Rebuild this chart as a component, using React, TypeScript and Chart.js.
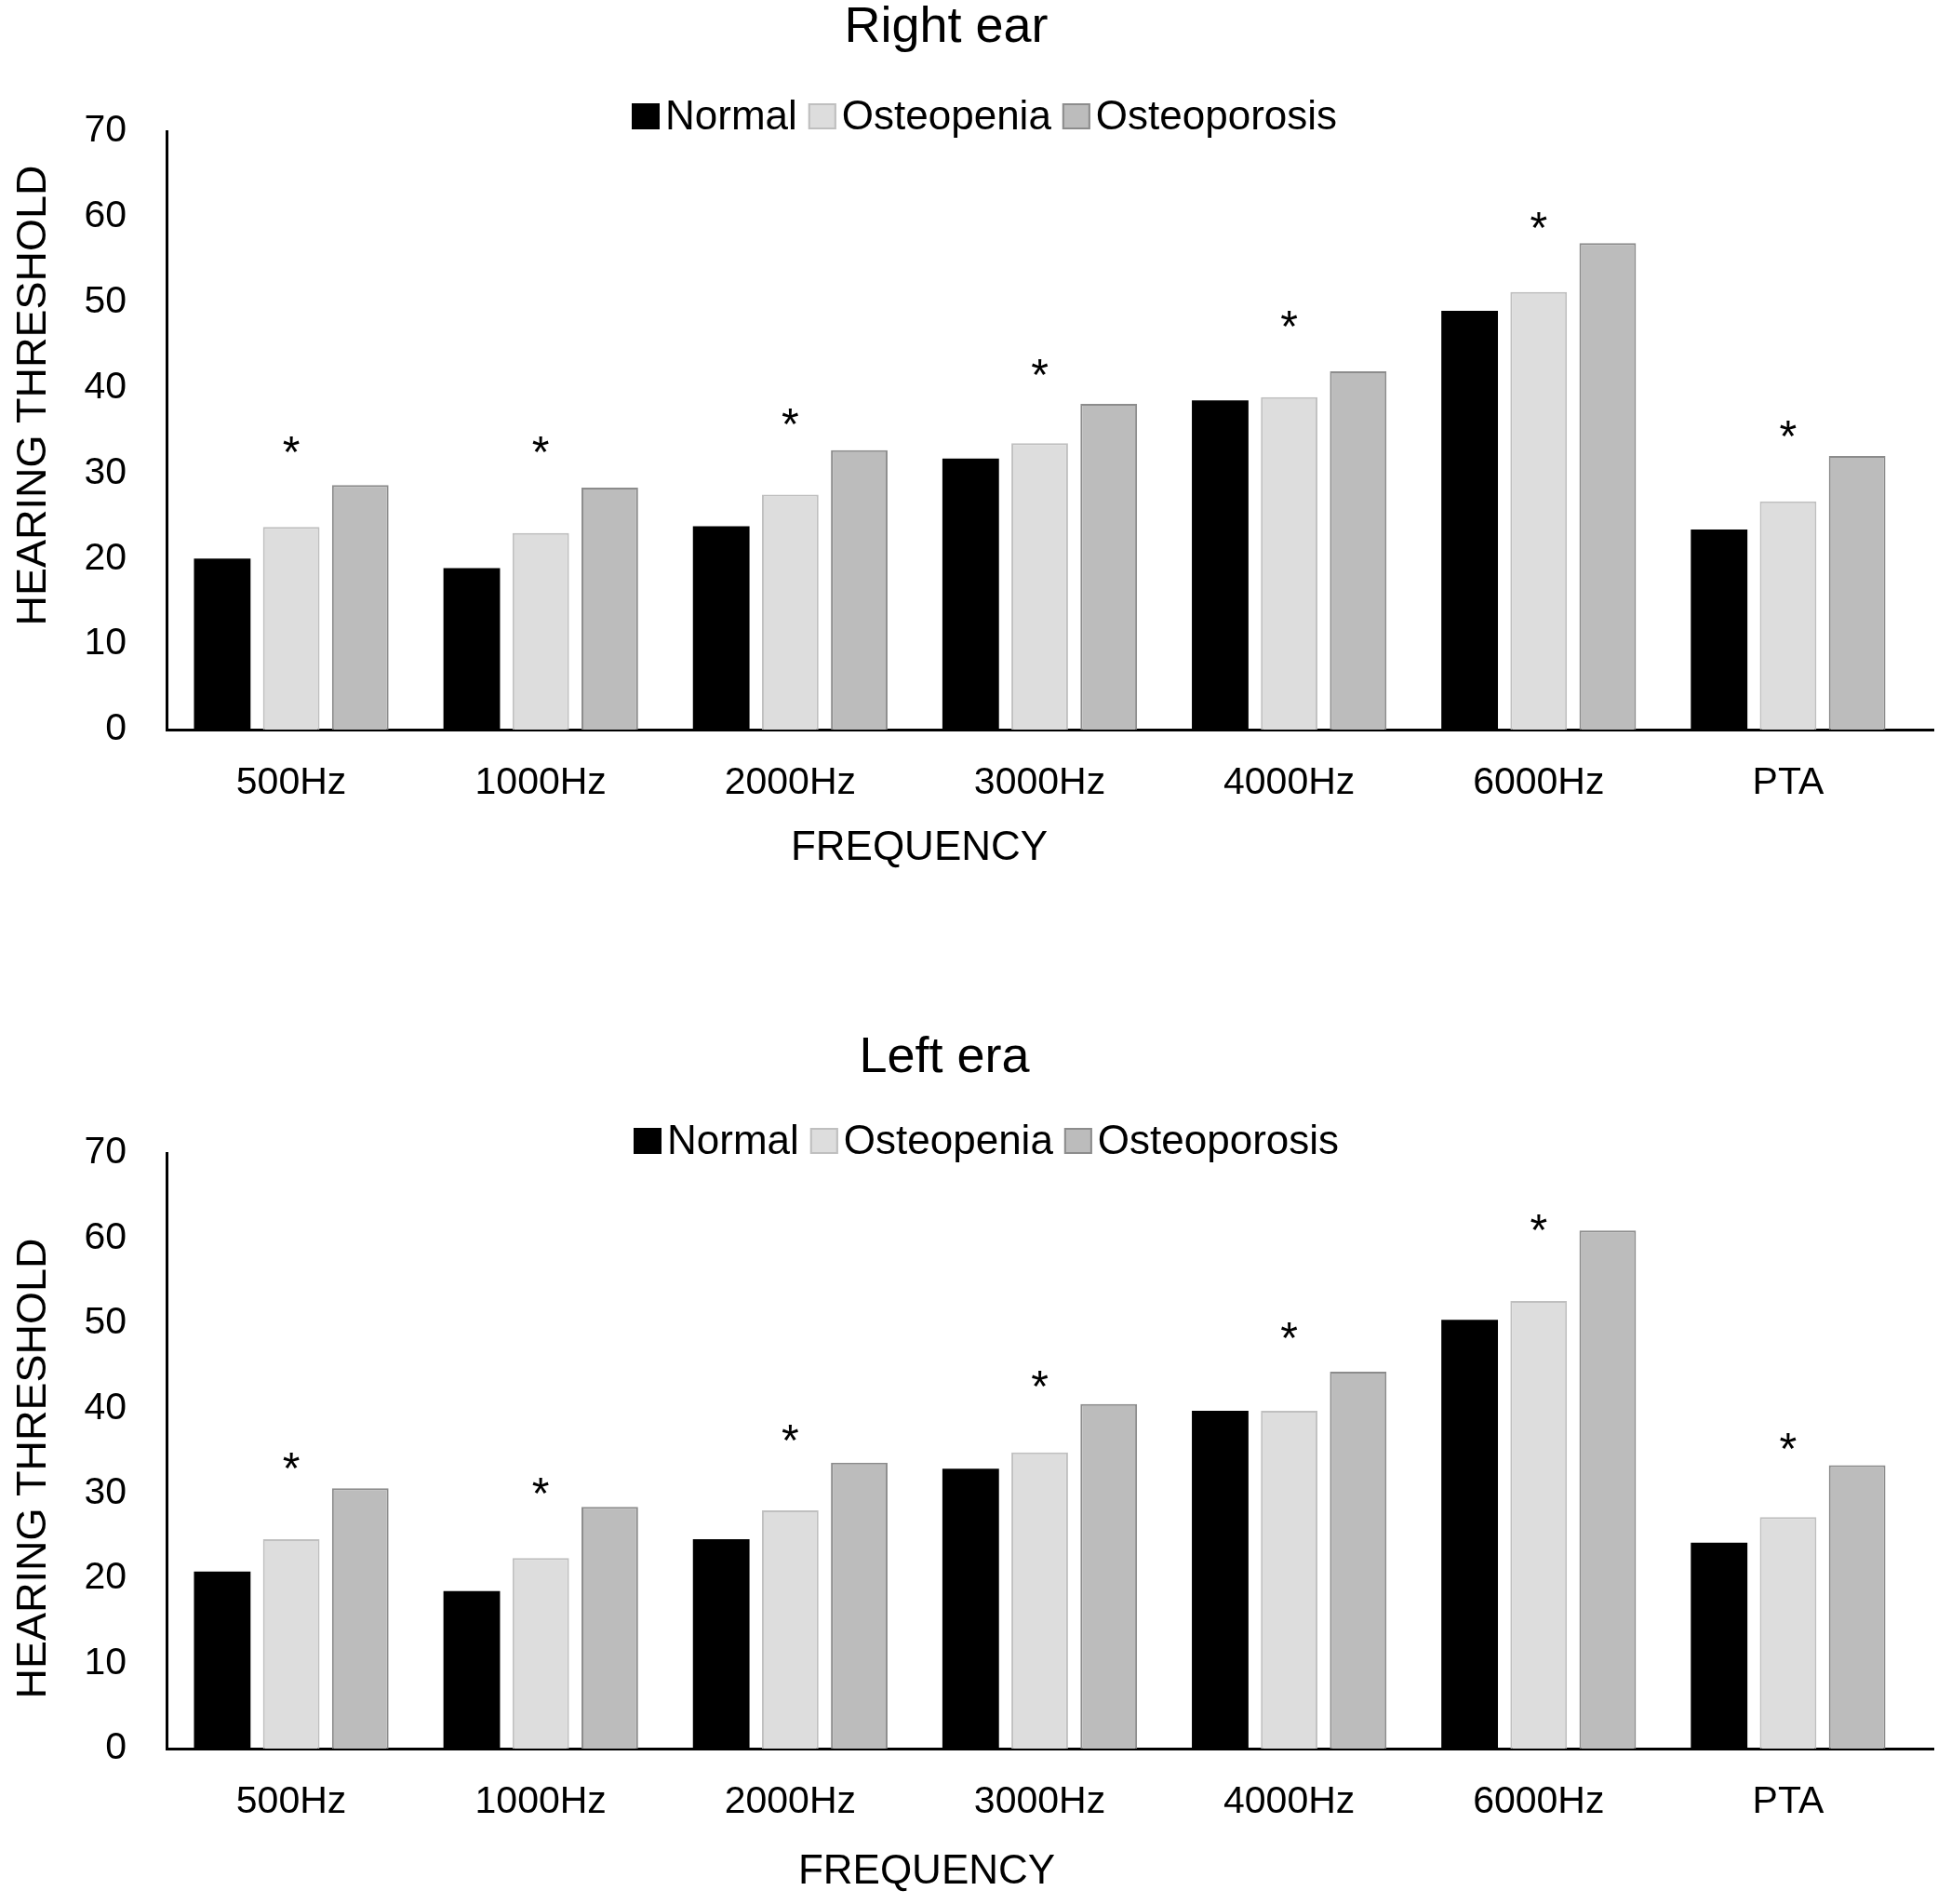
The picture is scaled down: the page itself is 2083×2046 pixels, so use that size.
import React, { useEffect, useRef } from "react";
import { Chart, registerables } from "chart.js";

Chart.register(...registerables);

const categories = ["500Hz", "1000Hz", "2000Hz", "3000Hz", "4000Hz", "6000Hz", "PTA"];
const seriesNames = ["Normal", "Osteopenia", "Osteoporosis"];
const yTicks = [0, 10, 20, 30, 40, 50, 60, 70];

const rightNormal = [20.0, 18.9, 23.8, 31.7, 38.5, 49.0, 23.4];
const rightOsteopenia = [23.7, 23.0, 27.5, 33.5, 38.9, 51.2, 26.7];
const rightOsteoporosis = [28.6, 28.3, 32.7, 38.1, 41.9, 56.9, 32.0];
const rightStars = [32.9, 32.9, 36.1, 41.9, 47.6, 59.1, 34.7];

const leftNormal = [20.8, 18.5, 24.6, 32.9, 39.7, 50.4, 24.2];
const leftOsteopenia = [24.6, 22.4, 28.0, 34.8, 39.7, 52.6, 27.2];
const leftOsteoporosis = [30.6, 28.4, 33.6, 40.5, 44.3, 60.9, 33.3];
const leftStars = [33.4, 30.4, 36.6, 43.0, 48.7, 61.4, 35.7];

const FONT = "'Liberation Sans', Arial, Helvetica, sans-serif";
const fills = ["#000000", "#dddddd", "#bcbcbc"];
const borders = ["#000000", "#bfbfbf", "#8c8c8c"];

const W = 2083;
const H = 1023;
const AREA_RIGHT = 2056;
const AXIS_END = 2079;

type Layout = {
  title: string;
  titleX: number;
  titleY: number;
  legendX: number;
  legendY: number;
  xTitleX: number;
  xTitleY: number;
  yTitleX: number;
  yTitleY: number;
  areaTop: number;
  areaBottom: number;
  stars: number[];
};

const decorPlugin = {
  id: "decor",
  afterDraw(chart: any, _args: any, opts: any) {
    const ctx = chart.ctx;
    const L: Layout = opts.layout;
    const xs = chart.scales.x;
    const ys = chart.scales.y;
    ctx.save();
    // extend x axis line beyond the last category
    const yLine = Math.round(xs.top - 1.5) + 1.5;
    ctx.strokeStyle = "#000";
    ctx.lineWidth = 3;
    ctx.beginPath();
    ctx.moveTo(xs.right - 2, yLine);
    ctx.lineTo(AXIS_END, yLine);
    ctx.stroke();

    ctx.fillStyle = "#000";
    // title
    ctx.font = `54px ${FONT}`;
    ctx.textAlign = "center";
    ctx.textBaseline = "middle";
    ctx.fillText(L.title, L.titleX, L.titleY);
    // legend
    ctx.font = `44px ${FONT}`;
    ctx.textAlign = "left";
    let x = L.legendX;
    seriesNames.forEach((name, i) => {
      ctx.fillStyle = fills[i];
      ctx.fillRect(x, L.legendY - 14, 30, 28);
      if (i > 0) {
        ctx.strokeStyle = borders[i];
        ctx.lineWidth = 2;
        ctx.strokeRect(x + 1, L.legendY - 13, 28, 26);
      }
      x += 36;
      ctx.fillStyle = "#000";
      ctx.fillText(name, x, L.legendY + 2);
      x += ctx.measureText(name).width + 12;
    });
    // axis titles
    ctx.font = `44px ${FONT}`;
    ctx.textAlign = "center";
    ctx.fillText("FREQUENCY", L.xTitleX, L.xTitleY);
    ctx.save();
    ctx.font = `45px ${FONT}`;
    ctx.translate(L.yTitleX, L.yTitleY);
    ctx.rotate(-Math.PI / 2);
    ctx.fillText("HEARING THRESHOLD", 0, 0);
    ctx.restore();
    // stars
    ctx.font = `48px ${FONT}`;
    ctx.textAlign = "center";
    ctx.textBaseline = "alphabetic";
    L.stars.forEach((v, i) => {
      const px = xs.getPixelForValue(i);
      const py = ys.getPixelForValue(v);
      ctx.fillText("*", px, py + 20);
    });
    ctx.restore();
  },
};

function EarChart({ values, layout }: { values: number[][]; layout: Layout }) {
  const ref = useRef<HTMLCanvasElement | null>(null);
  useEffect(() => {
    if (!ref.current) return;
    const chart = new Chart(ref.current, {
      type: "bar",
      data: {
        labels: categories,
        datasets: values.map((vals, i) => ({
          label: seriesNames[i],
          data: vals,
          backgroundColor: fills[i],
          borderColor: borders[i],
          borderWidth: i === 0 ? 0 : 2,
          barPercentage: 0.82,
          categoryPercentage: 0.83,
        })),
      },
      options: {
        animation: false,
        responsive: false,
        devicePixelRatio: 1,
        layout: { padding: { top: layout.areaTop, left: 0, right: W - AREA_RIGHT, bottom: 0 } },
        plugins: {
          legend: { display: false },
          title: { display: false },
          tooltip: { enabled: false },
          decor: { layout },
        } as any,
        scales: {
          x: {
            grid: { display: false, drawTicks: false },
            border: { display: true, color: "#000", width: 3 },
            ticks: { color: "#000", font: { family: FONT, size: 41 }, padding: 33 },
            afterFit(scale: any) {
              scale.height = H - layout.areaBottom;
            },
          },
          y: {
            min: 0,
            max: 70,
            afterBuildTicks(scale: any) {
              scale.ticks = yTicks.map((v) => ({ value: v }));
            },
            grid: { display: false, drawTicks: false },
            border: { display: true, color: "#000", width: 3 },
            ticks: { color: "#000", font: { family: FONT, size: 41 }, padding: 43 },
            afterFit(scale: any) {
              scale.width = 179;
            },
          },
        },
      },
      plugins: [decorPlugin],
    } as any);
    return () => chart.destroy();
  }, []);
  return <canvas ref={ref} width={W} height={H} style={{ display: "block", width: W, height: H }} />;
}

const rightLayout: Layout = {
  title: "Right ear",
  titleX: 1017,
  titleY: 30,
  legendX: 679,
  legendY: 125,
  xTitleX: 988,
  xTitleY: 912,
  yTitleX: 37,
  yTitleY: 425,
  areaTop: 141,
  areaBottom: 784,
  stars: rightStars,
};

const leftLayout: Layout = {
  title: "Left era",
  titleX: 1015,
  titleY: 114,
  legendX: 681,
  legendY: 203,
  xTitleX: 996,
  xTitleY: 989,
  yTitleX: 37,
  yTitleY: 555,
  areaTop: 216,
  areaBottom: 856,
  stars: leftStars,
};

export default function App() {
  useEffect(() => {
    document.body.style.margin = "0";
  }, []);
  return (
    <div style={{ position: "absolute", left: 0, top: 0, width: W, height: 2 * H, background: "#fff" }}>
      <EarChart values={[rightNormal, rightOsteopenia, rightOsteoporosis]} layout={rightLayout} />
      <EarChart values={[leftNormal, leftOsteopenia, leftOsteoporosis]} layout={leftLayout} />
    </div>
  );
}
